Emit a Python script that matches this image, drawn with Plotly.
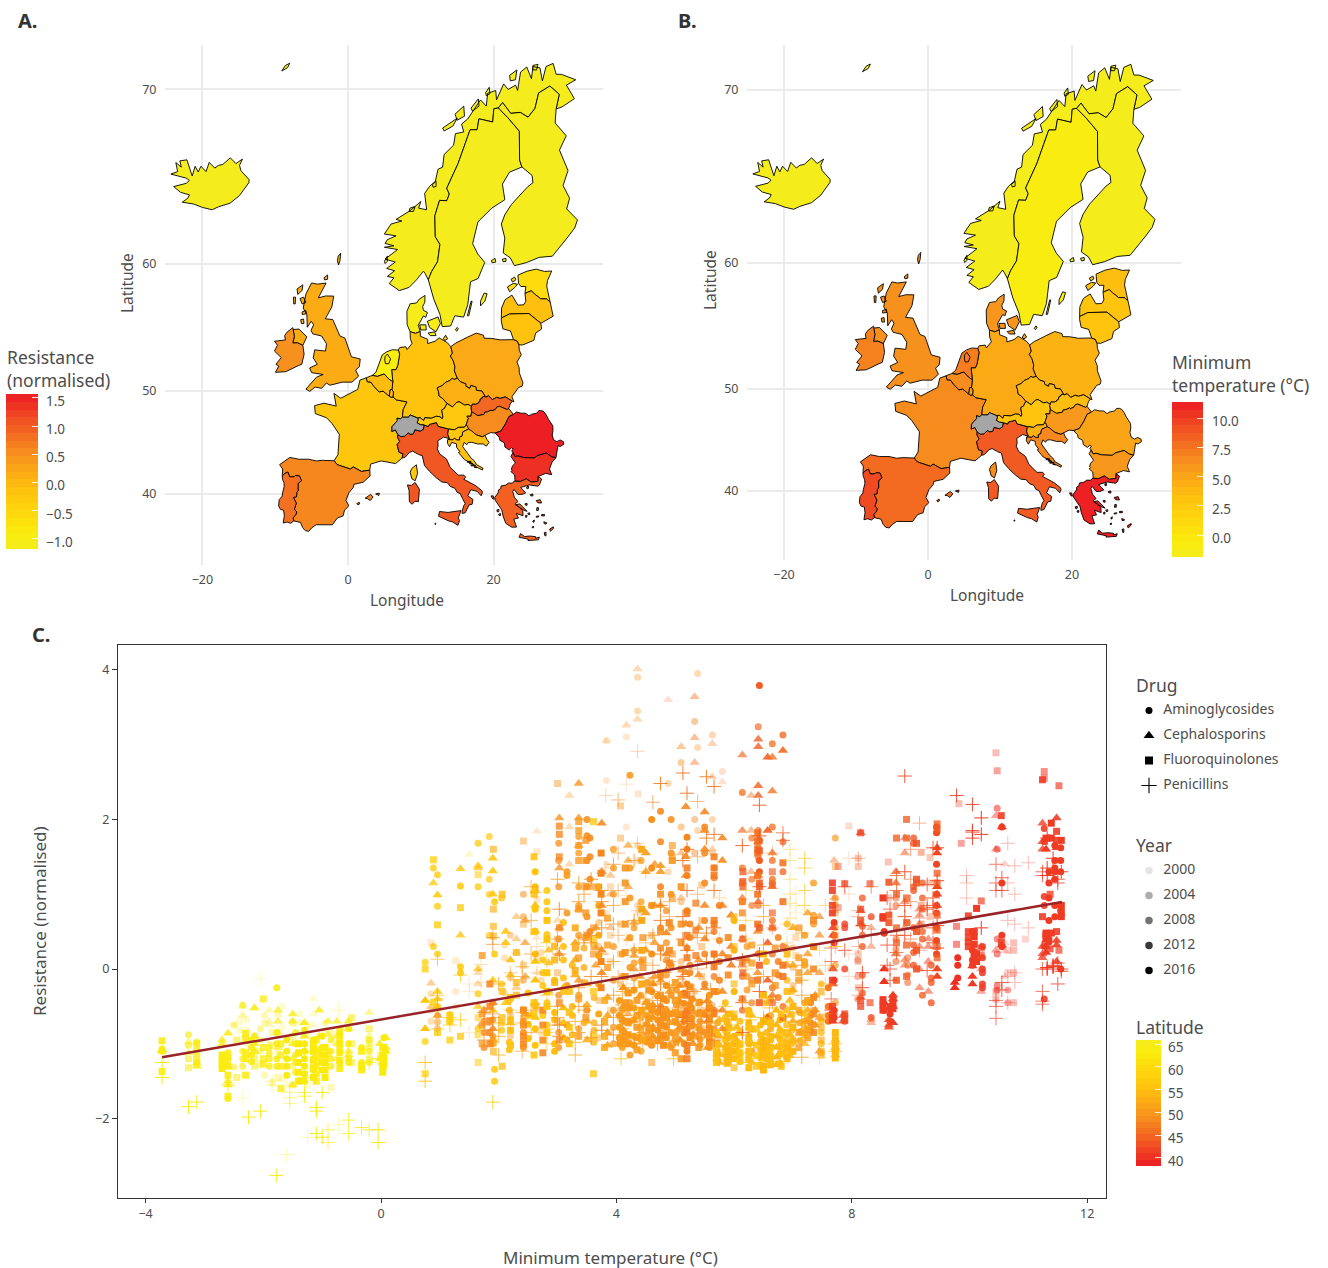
import math
import plotly.graph_objects as go

W, H = 1328, 1268
FONT = "Noto Sans"
GREY = "#4d4d4d"

def merc(lat):
    return math.log(math.tan(math.pi / 4 + math.radians(lat) / 2))

# ---------- country outlines (lon, lat) ----------
SHAPES = {
"Iceland": [[(-14.5,66.45),(-14.9,66.1),(-14.7,65.8),(-13.6,65.3),(-13.6,65.13),(-14.2,64.8),(-14.9,64.36),(-16.2,63.9),(-17.8,63.68),(-18.66,63.5),(-19.97,63.64),(-21.2,63.85),(-22.76,63.96),(-22.0,64.2),(-21.78,64.4),(-23.0,64.55),(-23.95,64.89),(-22.2,65.08),(-21.8,65.25),(-22.23,65.38),(-24.33,65.61),(-23.4,65.75),(-23.65,66.26),(-22.9,66.0),(-23.1,66.35),(-22.13,66.41),(-21.4,65.5),(-21.0,66.05),(-20.58,65.73),(-20.2,66.05),(-19.5,65.75),(-19.06,66.27),(-18.3,65.95),(-17.8,66.1),(-17.2,66.15),(-16.17,66.52),(-15.4,66.2),(-14.5,66.45)]],
"Norway": [[(31.29,70.45),(30.0,70.2),(31.1,69.56),(29.4,69.16),(28.59,69.06),(29.02,69.77),(27.73,70.16),(26.18,69.83),(25.69,69.09),(24.74,68.65),(23.66,68.89),(22.36,68.84),(21.24,69.37),(20.65,69.11),(20.03,69.07),(19.88,68.41),(17.99,68.57),(17.73,68.01),(16.77,68.01),(16.11,67.3),(15.11,66.19),(13.56,64.79),(13.92,64.45),(13.57,64.05),(12.58,64.07),(11.93,63.13),(11.99,61.8),(12.63,61.29),(12.3,60.12),(11.47,59.43),(11.03,58.86),(10.6,59.3),(10.36,59.47),(9.4,58.85),(8.38,58.31),(7.05,58.08),(5.67,58.59),(6.3,59.0),(5.4,59.1),(6.4,59.5),(5.31,59.66),(6.5,60.1),(5.1,60.3),(6.8,60.95),(5.0,61.1),(6.3,61.2),(5.1,61.35),(5.4,61.6),(6.6,61.85),(4.99,61.97),(5.91,62.61),(7.4,62.8),(6.6,62.9),(8.55,63.45),(10.0,64.0),(9.7,63.6),(10.8,63.5),(10.53,64.49),(11.2,64.9),(12.0,65.2),(12.36,65.88),(13.0,66.0),(13.2,66.7),(14.5,67.2),(14.76,67.81),(15.9,67.9),(15.6,68.3),(16.44,68.56),(17.4,69.1),(18.2,69.5),(19.0,69.2),(19.18,69.82),(20.3,69.95),(20.4,69.5),(21.38,70.26),(22.0,70.0),(23.02,70.2),(23.3,69.95),(23.7,70.8),(24.55,71.03),(25.2,70.5),(25.4,71.05),(26.37,70.99),(26.7,70.4),(27.2,71.05),(28.17,71.19),(28.6,70.7),(29.3,70.7),(31.29,70.45)],
  [(13.0,68.1),(14.3,68.4),(15.0,68.6),(14.4,68.2),(13.2,67.95)],[(14.7,68.8),(15.9,69.2),(16.0,68.7),(15.0,68.5)],[(16.9,69.1),(17.9,69.55),(18.0,69.2),(17.1,68.95)],[(18.9,69.85),(19.4,70.1),(19.5,69.8),(19.0,69.7)],[(22.2,70.65),(23.2,70.9),(23.0,70.45),(22.3,70.4)],[(8.5,63.6),(9.2,63.7),(9.0,63.4),(8.4,63.4)],[(25.4,71.1),(26.1,71.15),(25.9,70.9),(25.4,70.9)],[(11.6,65.0),(12.1,65.2),(12.1,64.9),(11.7,64.85)],[(5.0,60.15),(5.4,60.5),(5.4,60.15),(5.1,60.0)]],
"Sweden": [[(22.18,65.72),(21.21,65.03),(21.54,64.11),(19.78,63.61),(17.85,62.75),(17.12,61.34),(17.83,60.64),(18.79,60.08),(17.87,58.95),(16.83,58.72),(16.45,57.04),(15.88,56.1),(14.67,56.2),(14.1,55.41),(12.94,55.36),(12.63,56.31),(11.79,57.44),(11.03,58.86),(11.47,59.43),(12.3,60.12),(12.63,61.29),(11.99,61.8),(11.93,63.13),(12.58,64.07),(13.57,64.05),(13.92,64.45),(13.56,64.79),(15.11,66.19),(16.11,67.3),(16.77,68.01),(17.73,68.01),(17.99,68.57),(19.88,68.41),(20.03,69.07),(20.65,69.11),(21.98,68.62),(23.54,67.94),(23.57,66.4),(23.9,66.01),(22.18,65.72)],
  [(18.2,57.3),(18.7,57.9),(19.1,57.85),(18.8,57.3),(18.2,56.95)],[(16.4,56.2),(16.9,57.3),(17.05,57.3),(16.6,56.2)],[(15.0,55.3),(15.15,55.2),(14.95,55.0),(14.75,55.1)]],
"Finland": [[(28.59,69.06),(28.45,68.36),(29.98,67.7),(29.05,66.94),(30.22,65.81),(29.54,64.95),(30.44,64.2),(30.04,63.55),(31.52,62.87),(31.14,62.36),(30.21,61.78),(28.07,60.5),(26.26,60.42),(24.5,60.06),(22.87,59.85),(22.29,60.39),(21.32,60.72),(21.54,61.71),(21.06,62.61),(21.54,63.19),(22.44,63.82),(24.73,64.9),(25.4,65.11),(25.29,65.53),(23.9,66.01),(23.57,66.4),(23.54,67.94),(21.98,68.62),(20.65,69.11),(21.24,69.37),(22.36,68.84),(23.66,68.89),(24.74,68.65),(25.69,69.09),(26.18,69.83),(27.73,70.16),(29.02,69.77),(28.59,69.06)],
  [(19.7,60.2),(20.2,60.35),(20.3,60.1),(19.8,60.05)],[(21.2,60.3),(21.7,60.35),(21.7,60.15),(21.3,60.12)]],
"Denmark": [[(9.92,54.98),(9.28,54.83),(8.53,54.96),(8.12,55.52),(8.09,56.54),(8.26,56.81),(8.54,57.11),(9.42,57.17),(9.78,57.45),(10.58,57.73),(10.55,57.22),(10.25,56.89),(10.37,56.61),(10.91,56.46),(10.67,56.08),(10.37,56.19),(9.65,55.47),(9.92,54.98)],
  [(12.37,56.11),(12.69,55.61),(12.09,54.95),(11.2,55.3),(10.9,55.78),(12.37,56.11)],[(9.85,55.5),(10.7,55.5),(10.75,55.1),(10.0,55.1)],[(11.0,54.85),(11.9,54.95),(12.1,54.65),(11.3,54.65)]],
"United Kingdom": [[(-5.66,54.55),(-6.2,53.87),(-6.95,54.07),(-7.57,54.06),(-7.37,54.6),(-7.57,55.13),(-6.73,55.17),(-5.66,54.55)],
  [(-3.01,58.63),(-4.07,57.55),(-3.06,57.69),(-1.96,57.68),(-2.22,56.87),(-3.12,55.97),(-2.09,55.91),(-1.11,54.62),(-0.43,54.46),(0.18,53.33),(0.47,52.93),(1.68,52.74),(1.56,52.1),(1.05,51.81),(1.45,51.29),(0.55,50.77),(-0.79,50.77),(-2.49,50.5),(-2.96,50.7),(-3.62,50.23),(-4.54,50.34),(-5.25,49.96),(-5.78,50.16),(-4.31,51.21),(-3.41,51.43),(-5.0,51.59),(-5.27,51.99),(-4.22,52.3),(-4.77,52.84),(-4.58,53.5),(-3.09,53.4),(-2.95,53.99),(-3.63,54.62),(-4.84,54.79),(-5.08,55.06),(-4.72,55.51),(-5.05,55.78),(-5.59,55.31),(-5.65,56.28),(-6.15,56.79),(-5.79,57.82),(-5.01,58.63),(-4.21,58.55),(-3.01,58.63)],
  [(-1.35,60.5),(-1.0,60.7),(-1.1,60.2),(-1.3,59.9),(-1.45,60.2)],[(-3.3,59.0),(-2.8,59.2),(-2.8,58.9),(-3.2,58.85)],[(-7.0,58.2),(-6.2,58.5),(-6.3,58.1),(-6.9,57.8)],[(-7.5,57.6),(-7.2,57.6),(-7.25,57.1),(-7.45,57.1)],[(-6.6,57.5),(-6.1,57.6),(-5.8,57.2),(-6.3,57.1)],[(-6.3,56.5),(-5.8,56.6),(-5.7,56.35),(-6.3,56.3)],[(-6.5,55.9),(-6.1,55.95),(-6.05,55.6),(-6.4,55.6)]],
"Ireland": [[(-6.2,53.87),(-6.03,53.15),(-6.35,52.3),(-6.79,52.2),(-8.56,51.67),(-9.98,51.62),(-9.5,52.15),(-9.9,52.3),(-9.17,52.86),(-10.1,53.4),(-9.69,53.88),(-10.1,54.2),(-8.6,54.3),(-8.7,54.66),(-8.33,54.95),(-7.57,55.28),(-7.37,54.6),(-7.57,54.06),(-6.95,54.07),(-6.2,53.87)]],
"France": [[(6.19,49.46),(6.66,49.2),(8.1,49.02),(7.59,48.33),(7.47,47.62),(7.19,47.45),(6.74,47.54),(6.77,47.29),(6.04,46.73),(6.02,46.27),(6.5,46.43),(6.84,45.99),(6.8,45.71),(7.1,45.33),(6.75,45.03),(7.01,44.25),(7.55,44.13),(7.44,43.69),(6.53,43.13),(4.56,43.4),(3.1,43.08),(2.99,42.47),(1.83,42.34),(0.7,42.8),(0.34,42.58),(-1.5,43.03),(-1.9,43.42),(-1.38,44.02),(-1.19,46.01),(-2.23,47.06),(-2.96,47.57),(-4.49,47.95),(-4.59,48.68),(-3.3,48.9),(-1.62,48.64),(-1.93,49.78),(-1.0,49.35),(1.34,50.13),(1.64,50.95),(2.51,51.15),(2.66,50.8),(3.12,50.78),(3.59,50.38),(4.29,49.91),(4.8,49.99),(5.67,49.53),(5.9,49.44),(6.19,49.46)],
  [(8.75,42.63),(9.39,43.01),(9.56,42.15),(9.23,41.38),(8.78,41.58),(8.54,42.26),(8.75,42.63)]],
"Spain": [[(-9.03,41.88),(-8.98,42.59),(-9.39,43.03),(-7.98,43.75),(-6.75,43.57),(-5.41,43.57),(-4.35,43.4),(-3.52,43.46),(-1.9,43.42),(-1.5,43.03),(0.34,42.58),(0.7,42.8),(1.83,42.34),(2.99,42.47),(3.04,41.89),(2.09,41.23),(0.81,41.01),(0.72,40.68),(0.11,40.12),(-0.28,39.31),(0.11,38.74),(-0.47,38.29),(-0.68,37.64),(-1.44,37.44),(-2.15,36.67),(-3.42,36.66),(-4.37,36.68),(-5.0,36.32),(-5.38,35.95),(-5.87,36.03),(-6.24,36.37),(-6.52,36.94),(-7.45,37.1),(-7.54,37.43),(-7.17,37.8),(-7.03,38.08),(-7.37,38.37),(-7.1,39.03),(-7.5,39.63),(-7.07,39.71),(-7.03,40.18),(-6.86,40.33),(-6.86,41.11),(-6.39,41.38),(-6.67,41.88),(-7.25,41.92),(-7.42,41.79),(-8.01,41.79),(-8.26,42.28),(-8.67,42.13),(-9.03,41.88)],
  [(2.35,39.55),(3.1,39.95),(3.45,39.7),(3.05,39.3),(2.7,39.5)],[(3.8,40.0),(4.3,40.1),(4.25,39.85),(3.85,39.93)],[(1.2,38.97),(1.55,39.12),(1.6,38.95),(1.35,38.85)]],
"Portugal": [[(-9.03,41.88),(-8.67,42.13),(-8.26,42.28),(-8.01,41.79),(-7.42,41.79),(-7.25,41.92),(-6.67,41.88),(-6.39,41.38),(-6.85,41.11),(-6.86,40.33),(-7.03,40.18),(-7.07,39.71),(-7.5,39.63),(-7.1,39.03),(-7.37,38.37),(-7.03,38.08),(-7.17,37.8),(-7.54,37.43),(-7.45,37.1),(-7.86,36.84),(-8.38,36.98),(-8.9,36.87),(-8.75,37.65),(-8.84,38.27),(-9.29,38.36),(-9.53,38.74),(-9.45,39.39),(-9.05,39.76),(-8.98,40.16),(-8.77,40.76),(-8.79,41.18),(-9.0,41.54),(-9.03,41.88)]],
"Italy": [[(12.38,46.77),(13.81,46.51),(13.7,46.02),(13.94,45.59),(13.14,45.74),(12.33,45.38),(12.38,44.89),(12.26,44.6),(12.59,44.09),(13.53,43.59),(14.03,42.76),(15.14,41.96),(15.93,41.96),(16.17,41.74),(15.89,41.54),(16.79,41.18),(17.52,40.88),(18.38,40.36),(18.48,40.17),(18.29,39.81),(17.74,40.28),(16.87,40.44),(16.45,39.8),(17.17,39.42),(17.05,38.9),(16.64,38.84),(16.1,37.99),(15.68,37.91),(15.69,38.21),(15.89,38.75),(16.11,38.96),(15.72,39.54),(15.41,40.05),(14.99,40.17),(14.7,40.6),(14.06,40.79),(13.63,41.19),(12.89,41.25),(12.11,41.7),(11.19,42.36),(10.51,42.93),(10.2,43.92),(9.7,44.04),(8.89,44.37),(8.43,44.23),(7.85,43.77),(7.44,43.69),(7.55,44.13),(7.01,44.25),(6.75,45.03),(7.1,45.33),(6.8,45.71),(6.84,45.99),(7.27,45.78),(7.76,45.82),(8.32,46.16),(8.49,46.01),(8.97,46.04),(9.18,46.44),(9.92,46.31),(10.36,46.48),(10.44,46.89),(11.05,46.75),(11.16,46.94),(12.15,47.12),(12.38,46.77)],
  [(15.52,38.23),(15.16,37.44),(15.31,37.13),(15.1,36.62),(14.34,37.0),(13.83,37.1),(12.43,37.61),(12.57,38.13),(13.74,38.03),(14.76,38.14),(15.52,38.23)],
  [(9.21,41.21),(9.81,40.5),(9.67,39.18),(9.21,39.24),(8.81,38.91),(8.43,39.17),(8.39,40.38),(8.16,40.95),(8.71,40.9),(9.21,41.21)]],
"Germany": [[(9.92,54.98),(9.94,54.6),(10.95,54.36),(10.94,54.01),(11.96,54.2),(12.52,54.47),(13.65,54.08),(14.12,53.76),(14.35,53.25),(14.07,52.98),(14.44,52.62),(14.69,52.09),(14.61,51.75),(15.02,51.11),(14.57,51.0),(14.31,51.12),(14.06,50.93),(13.34,50.73),(12.97,50.48),(12.24,50.27),(12.42,49.97),(12.52,49.55),(13.03,49.31),(13.6,48.88),(13.24,48.42),(12.88,48.29),(13.03,47.64),(12.93,47.47),(12.62,47.67),(12.14,47.7),(11.43,47.52),(10.54,47.57),(10.4,47.3),(9.9,47.58),(9.59,47.53),(8.52,47.83),(8.32,47.61),(7.47,47.62),(7.59,48.33),(8.1,49.02),(6.66,49.2),(6.19,49.46),(6.24,49.9),(6.04,50.13),(6.16,50.8),(5.99,51.85),(6.59,51.85),(6.84,52.23),(7.09,53.14),(6.91,53.48),(7.1,53.69),(7.94,53.75),(8.12,53.53),(8.8,54.02),(8.57,54.4),(8.53,54.96),(9.28,54.83),(9.92,54.98)],
  [(13.1,54.4),(13.4,54.68),(13.7,54.4),(13.3,54.25)]],
"Poland": [[(15.02,51.11),(14.61,51.75),(14.69,52.09),(14.44,52.62),(14.07,52.98),(14.35,53.25),(14.12,53.76),(14.8,54.05),(16.36,54.51),(17.62,54.85),(18.62,54.68),(18.7,54.44),(19.66,54.43),(20.89,54.31),(22.73,54.33),(23.24,54.22),(23.48,53.91),(23.53,53.47),(23.8,53.09),(23.2,52.49),(23.51,52.02),(23.53,51.58),(24.03,50.71),(23.92,50.42),(23.43,50.31),(22.52,49.48),(22.78,49.03),(22.56,49.09),(21.61,49.47),(20.89,49.33),(20.42,49.43),(19.83,49.22),(19.32,49.57),(18.91,49.44),(18.85,49.5),(18.39,49.99),(17.65,50.05),(17.55,50.36),(16.87,50.47),(16.72,50.22),(16.18,50.42),(16.18,50.63),(15.49,50.78),(15.02,51.11)]],
"Czechia": [[(15.02,51.11),(15.49,50.78),(16.18,50.63),(16.18,50.42),(16.72,50.22),(16.87,50.47),(17.55,50.36),(17.65,50.05),(18.39,49.99),(18.85,49.5),(18.55,49.5),(18.17,49.27),(18.11,49.04),(17.91,48.99),(17.89,48.9),(17.55,48.8),(17.1,48.82),(16.96,48.6),(16.5,48.79),(16.03,48.73),(15.25,49.04),(14.9,48.96),(14.34,48.56),(13.6,48.88),(13.03,49.31),(12.52,49.55),(12.42,49.97),(12.24,50.27),(12.97,50.48),(13.34,50.73),(14.06,50.93),(14.31,51.12),(14.57,51.0),(15.02,51.11)]],
"Slovakia": [[(18.85,49.5),(18.91,49.44),(19.32,49.57),(19.83,49.22),(20.42,49.43),(20.89,49.33),(21.61,49.47),(22.56,49.09),(22.28,48.83),(22.09,48.42),(21.87,48.32),(20.8,48.62),(20.47,48.56),(20.24,48.33),(19.77,48.2),(19.66,48.27),(19.17,48.11),(18.78,48.08),(18.7,47.88),(17.86,47.76),(17.49,47.87),(16.98,48.12),(16.88,48.47),(16.96,48.6),(17.1,48.82),(17.55,48.8),(17.89,48.9),(17.91,48.99),(18.11,49.04),(18.17,49.27),(18.4,49.32),(18.55,49.5),(18.85,49.5)]],
"Austria": [[(16.98,48.12),(16.9,47.71),(16.34,47.71),(16.53,47.5),(16.2,46.85),(16.01,46.68),(15.14,46.66),(14.63,46.43),(13.81,46.51),(12.38,46.77),(12.15,47.12),(11.16,46.94),(11.05,46.75),(10.44,46.89),(9.93,46.92),(9.48,47.1),(9.63,47.35),(9.59,47.53),(9.9,47.58),(10.4,47.3),(10.54,47.57),(11.43,47.52),(12.14,47.7),(12.62,47.67),(12.93,47.47),(13.03,47.64),(12.88,48.29),(13.24,48.42),(13.6,48.88),(14.34,48.56),(14.9,48.96),(15.25,49.04),(16.03,48.73),(16.5,48.79),(16.96,48.6),(16.88,48.47),(16.98,48.12)]],
"Switzerland": [[(9.59,47.53),(9.63,47.35),(9.48,47.1),(9.93,46.92),(10.44,46.89),(10.36,46.48),(9.92,46.31),(9.18,46.44),(8.97,46.04),(8.49,46.01),(8.32,46.16),(7.76,45.82),(7.27,45.78),(6.84,45.99),(6.5,46.43),(6.02,46.27),(6.04,46.73),(6.77,47.29),(6.74,47.54),(7.19,47.45),(7.47,47.62),(8.32,47.61),(8.52,47.83),(9.59,47.53)]],
"Hungary": [[(16.2,46.85),(16.53,47.5),(16.34,47.71),(16.9,47.71),(16.98,48.12),(17.49,47.87),(17.86,47.76),(18.7,47.88),(18.78,48.08),(19.17,48.11),(19.66,48.27),(19.77,48.2),(20.24,48.33),(20.47,48.56),(20.8,48.62),(21.87,48.32),(22.09,48.42),(22.71,47.88),(22.1,47.67),(21.63,46.99),(21.02,46.32),(20.22,46.13),(19.6,46.17),(18.83,45.91),(18.46,45.76),(17.63,45.95),(16.88,46.38),(16.56,46.5),(16.2,46.85)]],
"Slovenia": [[(13.81,46.51),(14.63,46.43),(15.14,46.66),(16.01,46.68),(16.2,46.85),(16.37,46.84),(16.56,46.5),(15.77,46.24),(15.67,45.83),(15.32,45.73),(15.33,45.45),(14.94,45.47),(14.6,45.63),(14.41,45.47),(13.72,45.5),(13.94,45.59),(13.7,46.02),(13.81,46.51)]],
"Croatia": [[(18.83,45.91),(19.07,45.52),(19.39,45.24),(19.01,44.86),(18.55,45.08),(17.86,45.07),(17.0,45.23),(16.53,45.21),(16.32,45.0),(15.96,45.23),(15.75,44.82),(16.24,44.35),(16.46,44.04),(16.92,43.67),(17.3,43.45),(17.67,43.03),(18.56,42.65),(18.45,42.48),(17.51,42.85),(16.93,43.21),(16.02,43.51),(15.17,44.24),(15.38,44.32),(14.92,44.74),(14.9,45.08),(14.26,45.23),(13.95,44.8),(13.66,45.14),(13.68,45.48),(13.72,45.5),(14.41,45.47),(14.6,45.63),(14.94,45.47),(15.33,45.45),(15.32,45.73),(15.67,45.83),(15.77,46.24),(16.56,46.5),(16.88,46.38),(17.63,45.95),(18.46,45.76),(18.83,45.91)],
  [(16.4,43.35),(16.9,43.35),(16.9,43.25),(16.4,43.25)],[(16.7,43.18),(17.2,43.15),(17.2,43.08),(16.7,43.1)],[(16.9,42.97),(17.5,42.98),(17.5,42.9),(16.9,42.9)],[(17.3,42.8),(17.7,42.78),(17.7,42.72),(17.3,42.74)]],
"Romania": [[(22.71,47.88),(23.14,48.1),(23.76,47.99),(24.4,47.98),(24.87,47.74),(25.21,47.89),(25.95,47.99),(26.2,48.22),(26.62,48.22),(26.92,48.12),(27.23,47.83),(27.55,47.41),(28.13,46.81),(28.16,46.37),(28.05,45.94),(28.23,45.49),(28.68,45.3),(29.15,45.46),(29.6,45.29),(29.63,45.04),(29.14,44.82),(28.84,44.91),(28.56,43.71),(27.97,43.81),(27.24,44.18),(26.07,43.94),(25.57,43.69),(24.1,43.74),(23.33,43.9),(22.94,43.82),(22.66,44.23),(22.47,44.41),(22.71,44.58),(22.46,44.7),(22.15,44.48),(21.56,44.77),(21.48,45.18),(20.87,45.42),(20.76,45.73),(20.22,46.13),(21.02,46.32),(21.63,46.99),(22.1,47.67),(22.71,47.88)]],
"Bulgaria": [[(22.66,44.23),(22.94,43.82),(23.33,43.9),(24.1,43.74),(25.57,43.69),(26.07,43.94),(27.24,44.18),(27.97,43.81),(28.56,43.71),(28.04,43.29),(27.67,42.58),(27.99,42.01),(27.14,42.14),(26.12,41.83),(26.11,41.33),(25.2,41.23),(24.49,41.58),(23.69,41.31),(22.95,41.34),(22.88,41.99),(22.38,42.32),(22.55,42.46),(22.44,42.58),(22.6,42.9),(22.99,43.2),(22.5,43.64),(22.38,43.85),(22.66,44.23)]],
"Greece": [[(26.6,41.56),(26.29,40.94),(26.06,40.82),(25.45,40.85),(24.93,40.95),(23.71,40.69),(24.41,40.12),(23.9,39.96),(23.34,39.96),(22.81,40.48),(22.63,40.26),(22.85,39.66),(23.35,39.19),(22.97,38.97),(23.53,38.51),(24.02,38.22),(24.04,37.66),(23.12,37.92),(23.41,37.41),(22.77,37.31),(23.15,36.42),(22.49,36.41),(21.67,36.84),(21.3,37.64),(21.12,38.31),(20.73,38.77),(20.22,39.34),(20.15,39.62),(20.62,40.11),(20.67,40.43),(20.99,40.58),(21.02,40.84),(21.67,40.93),(22.06,41.15),(22.6,41.13),(22.76,41.3),(22.95,41.34),(23.69,41.31),(24.49,41.58),(25.2,41.23),(26.11,41.33),(26.12,41.83),(26.6,41.56)],
  [(23.7,35.71),(24.25,35.37),(25.02,35.42),(25.77,35.35),(25.75,35.18),(26.29,35.3),(26.16,35.0),(24.72,34.92),(24.74,35.08),(23.51,35.28),(23.7,35.71)],
  [(23.0,38.85),(23.6,38.95),(24.6,38.15),(24.2,38.25)],[(25.85,39.3),(26.4,39.4),(26.6,39.05),(26.1,39.05)],[(25.95,38.55),(26.15,38.55),(26.15,38.25),(25.9,38.25)],[(26.6,37.8),(27.0,37.8),(27.0,37.65),(26.6,37.65)],[(27.7,36.2),(28.2,36.45),(28.25,36.3),(27.8,35.95)],[(26.95,35.8),(27.2,35.85),(27.2,35.45),(27.05,35.45)],[(25.05,39.95),(25.4,40.0),(25.4,39.8),(25.1,39.8)],[(24.55,40.75),(24.8,40.8),(24.8,40.6),(24.6,40.55)],[(25.4,37.1),(25.6,37.2),(25.55,36.95),(25.4,36.98)],[(24.7,37.95),(24.95,37.98),(24.98,37.8),(24.75,37.8)],[(20.45,38.3),(20.75,38.35),(20.7,38.1),(20.5,38.1)],[(20.7,37.85),(20.95,37.9),(20.95,37.7),(20.75,37.7)],[(19.65,39.8),(19.95,39.8),(20.05,39.45),(19.85,39.5)],[(26.9,37.0),(27.3,36.9),(27.2,36.75),(26.95,36.8)],[(25.3,36.45),(25.5,36.5),(25.45,36.33),(25.3,36.35)],[(24.4,37.7),(24.6,37.7),(24.55,37.5),(24.4,37.5)],[(25.85,37.6),(26.2,37.65),(26.2,37.55),(25.85,37.5)],[(24.3,38.95),(24.6,39.0),(24.6,38.8),(24.4,38.8)]],
"Netherlands": [[(6.07,53.51),(6.91,53.48),(7.09,53.14),(6.84,52.23),(6.59,51.85),(5.99,51.85),(6.16,50.8),(5.61,51.04),(4.97,51.48),(4.05,51.27),(3.31,51.35),(3.83,51.62),(4.71,53.09),(5.35,53.35),(6.07,53.51)],
  [(5.1,52.95),(5.4,53.15),(5.85,52.75),(5.6,52.35),(5.15,52.35),(5.05,52.65)]],
"Belgium": [[(3.31,51.35),(4.05,51.27),(4.97,51.48),(5.61,51.04),(6.16,50.8),(6.04,50.13),(5.78,50.09),(5.67,49.53),(4.8,49.99),(4.29,49.91),(3.59,50.38),(3.12,50.78),(2.66,50.8),(2.51,51.15),(3.31,51.35)]],
"Luxembourg": [[(6.04,50.13),(6.24,49.9),(6.19,49.46),(5.9,49.44),(5.67,49.53),(5.78,50.09),(6.04,50.13)]],
"Estonia": [[(27.98,59.48),(27.0,59.45),(25.86,59.61),(24.6,59.47),(23.34,59.19),(23.43,58.61),(23.75,58.38),(24.43,58.38),(24.31,57.87),(25.16,58.07),(25.6,57.85),(26.46,57.48),(27.29,57.47),(27.77,57.24),(27.5,57.9),(27.3,58.4),(27.4,58.8),(27.98,59.48)],
  [(21.9,58.35),(22.7,58.6),(23.3,58.55),(22.9,58.3),(22.2,58.0)],[(22.4,58.9),(22.9,59.05),(23.05,58.85),(22.6,58.7)]],
"Latvia": [[(21.06,56.03),(22.2,56.34),(24.86,56.37),(25.0,56.3),(26.49,55.62),(28.18,56.17),(27.77,57.24),(27.29,57.47),(26.46,57.48),(25.6,57.85),(25.16,58.07),(24.31,57.87),(24.43,57.3),(24.12,57.03),(23.32,57.01),(22.52,57.75),(21.58,57.41),(21.09,56.78),(21.06,56.03)]],
"Lithuania": [[(22.73,54.33),(23.24,54.22),(23.48,53.91),(24.0,53.9),(25.54,54.28),(25.77,54.85),(26.59,55.17),(26.49,55.62),(25.0,56.3),(24.86,56.37),(22.2,56.34),(21.06,56.03),(21.06,55.79),(21.27,55.19),(22.32,55.02),(22.73,54.33)]],
"JanMayen": [[(-9.1,70.85),(-8.6,71.1),(-8.0,71.2),(-8.3,71.0)]],
"Pantelleria": [[(11.95,36.85),(12.05,36.85),(12.05,36.72),(11.95,36.72)]],
}

# ---------- map values ----------
RESISTANCE = {"Iceland":-1.15,"Norway":-1.15,"Sweden":-1.15,"Finland":-1.15,"JanMayen":-1.15,"Denmark":-1.1,"Netherlands":-0.98,"Estonia":-0.6,"Latvia":-0.1,"Lithuania":-0.15,"Austria":-0.25,"Slovenia":-0.2,"France":-0.2,"Germany":-0.15,"Croatia":-0.1,"Belgium":-0.05,"Luxembourg":-0.05,"Czechia":0.1,"United Kingdom":0.15,"Poland":0.2,"Hungary":0.55,"Ireland":0.5,"Spain":0.6,"Portugal":0.8,"Slovakia":0.9,"Greece":0.95,"Italy":1.05,"Pantelleria":1.05,"Bulgaria":1.4,"Romania":1.55}
MIN_TEMP = {"Iceland":-1.7,"Norway":-1.7,"Sweden":-0.9,"Finland":-1.7,"JanMayen":-1.7,"Denmark":6.0,"Netherlands":7.1,"Estonia":3.4,"Latvia":3.0,"Lithuania":2.9,"Austria":3.0,"Slovenia":4.3,"France":6.5,"Germany":4.7,"Croatia":6.6,"Belgium":6.4,"Luxembourg":4.7,"Czechia":3.9,"United Kingdom":6.2,"Poland":4.2,"Hungary":5.8,"Ireland":6.9,"Spain":8.0,"Portugal":9.4,"Slovakia":3.4,"Greece":11.2,"Italy":8.7,"Pantelleria":8.7,"Bulgaria":5.9,"Romania":5.0}

RES_RANGE = (-1.18, 1.57)
TEMP_RANGE = (-1.88, 11.37)
LAT_RANGE = (38.2, 65.9)
RES_TICKS = [-1.0, -0.5, 0.0, 0.5, 1.0, 1.5]
TEMP_TICKS = [0.0, 2.5, 5.0, 7.5, 10.0]
LAT_TICKS = [40, 45, 50, 55, 60, 65]

# ---------- panel C data: (temperature, latitude, year, [resistance values]) ----------
AMINO = [
(-3.72,64,2014,[-1.07,-1.1]),(-3.27,64,2010,[-0.88,-1.02]),(-3.13,64,2012,[-0.98,-1.07,-1.25]),(-2.6,64,2014,[-1.12,-1.2,-1.28,-1.73]),(-2.5,64,2008,[-0.75,-1.31]),(-2.35,64,2010,[-0.48,-1.1,-1.2,-1.3]),(-2.2,64,2014,[-0.95,-1.05,-1.15,-1.24]),(-2.05,64,2006,[-0.8,-0.95,-1.1,-1.28]),(-1.9,64,2012,[-1.05,-1.13,-1.2,-1.3]),(-1.77,64,2014,[-0.25,-0.85,-1.0,-1.2,-1.3]),(-1.6,64,2016,[-0.95,-1.1,-1.2,-1.3,-1.42]),(-1.45,63,2012,[-0.85,-1.0,-1.15,-1.25,-1.38]),(-1.3,63,2016,[-0.82,-1.0,-1.1,-1.2,-1.3,-1.4,-1.5]),(-1.15,64,2016,[-0.95,-1.05,-1.2,-1.35,-1.45]),(-1.0,63,2016,[-0.9,-1.05,-1.15,-1.25,-1.35]),(-0.85,64,2012,[-0.95,-1.1,-1.2,-1.3]),(-0.7,63,2016,[-0.88,-1.0,-1.12,-1.25]),(-0.55,63,2014,[-0.8,-1.0,-1.2,-1.25]),(-0.33,63,2014,[-1.05,-1.25,-1.32]),(-0.2,64,2012,[-0.95,-1.1,-1.25]),(0.05,63,2016,[-0.92,-1.15,-1.2,-1.25,-1.3]),
(-2.28,64,2002,[-0.68,-0.82,-1.0]),(-1.98,64,2004,[-0.62,-0.72,-1.42]),(-1.68,64,2002,[-0.5,-0.78,-1.48]),(-1.38,64,2002,[-0.6,-0.72]),(-0.95,64,2004,[-0.72,-0.82]),
(0.75,58,2012,[0.09,-0.97]),(0.89,57,2012,[1.35,0.3]),(0.96,57,2012,[1.26,0.84,0.2]),(0.85,51,2004,[-0.33,-0.55,-0.7]),(0.96,50,2008,[-0.71,-0.62,-0.8]),(1.17,57,2014,[-0.61,-0.7]),(1.35,57,2014,[1.11,0.03,-0.05]),(1.27,50,2002,[-0.3,-0.5]),(1.65,57,2012,[1.68,1.1,-0.33,-0.8]),(1.75,48,2012,[-0.55,-0.7,-0.85,-1.05]),(1.84,56,2010,[1.77,1.2,1.0,0.45]),(1.9,50,2012,[-0.45,-0.68,-0.9,-1.0]),(1.93,57,2014,[0.9,0.2,-1.34,-1.5]),(2.05,56,2012,[0.95,-0.2,-0.72,-0.82]),(2.2,50,2006,[0.45,-0.12,-0.6,-0.9]),(2.42,49,2008,[1.0,0.7,-0.15,-0.65,-0.95]),(2.42,49,2014,[-0.55,-0.7,-0.85,-1.05]),(2.62,56,2016,[1.3,1.1,1.05,0.8,0.5,0.2,-0.5,-0.8,-1.02]),(2.72,50,2004,[0.22,-0.15,-0.55,-0.85]),(2.82,56,2014,[1.05,0.9,0.78,0.46,-0.45,-0.75]),(3.02,49,2012,[1.68,1.45,1.1,0.4,-0.35,-0.85,-1.05]),(3.16,50,2014,[1.3,1.25,0.75,-0.22,-0.75,-0.95]),(3.36,50,2012,[1.77,1.55,1.1,0.85,0.45,-0.35,-0.8]),(3.5,49,2014,[2.0,1.78,1.45,1.1,0.7,0.45,-0.55]),(3.7,52,2016,[1.1,0.85,0.45,0.18,-0.2,-0.6]),(3.83,50,2002,[3.05,2.52,1.4,0.75]),
(2.18,55,2014,[-0.42,-0.55,-0.98,-1.08]),(2.5,56,2016,[-0.32,-0.62,-0.74,-0.93]),(2.95,55,2016,[-0.15,-0.58,-0.68,-1.0,-1.1]),(3.25,54,2014,[-0.5,-0.62,-0.88,0.05]),(3.62,53,2012,[-0.38,-0.72,-0.82,-0.98,0.32]),
(2.1,52,2004,[0.15,0.32,-0.32]),(2.75,56,2014,[0.12,-0.05,-0.22,-0.62]),(3.1,55,2014,[0.62,0.3,0.12,-0.12,-0.3]),(3.45,52,2012,[0.28,0.02,-0.18,-0.72]),(3.7,50,2006,[0.62,0.3,-0.42,-0.92]),
(3.55,48,2014,[1.75,1.5,1.2,0.5]),(3.95,50,2012,[1.6,1.35,1.0,0.3,-0.15,-0.55,-0.78,-1.0]),(4.1,51,2014,[0.2,-0.1,-0.55,-0.7,-0.85,-0.95,-1.05]),(4.23,50,2014,[2.59,1.35,0.95,0.42,0.02,-0.45,-0.7,-1.15]),(4.36,49,2004,[3.9,3.45,1.65,0.85]),(4.42,51,2012,[1.45,0.9,0.1,-0.35,-0.65,-0.85,-1.1]),(4.17,50,2002,[3.1,1.9]),(4.6,49,2016,[2.0,1.35,0.85,0.2,-0.3,-0.55,-0.8,-1.02]),(4.75,48,2014,[2.11,1.7,1.1,0.55,-0.1,-0.5,-0.75,-0.9]),(4.88,49,2004,[2.48,1.3,0.6]),(4.93,49,2014,[2.0,1.55,1.0,0.55,0.05,-0.35,-0.6,-0.85,-1.05]),(5.1,49,2006,[2.76,1.9,0.9,0.1,-0.45,-0.75]),(5.2,48,2016,[1.76,1.6,1.25,0.78,0.28,-0.2,-0.55,-0.8,-1.1]),(5.33,48,2006,[3.31,2.0,1.55,0.45,-0.3]),(5.38,49,2004,[3.95,2.96,1.85]),(5.5,48,2014,[1.9,1.55,1.15,0.65,0.2,-0.2,-0.6,-0.85]),(5.63,48,2004,[3.13,2.0,1.55]),(5.66,47,2012,[1.35,1.22,0.5,0.2,-0.1,-0.55,-0.8]),(5.8,46,2002,[2.64]),(5.85,55,2014,[-0.45,-0.65,-0.82,-0.95,-1.05,-1.12]),(6.0,54,2016,[0.65,0.25,-0.3,-0.65,-0.9,-1.0,-1.1,-1.2]),(6.14,46,2012,[2.36,1.35,0.9,0.55,-0.1,-0.55]),(6.3,46,2010,[1.75,1.2,0.85,-0.15,-0.45,-0.8,-1.1]),(6.41,45,2010,[3.24,1.85,1.62,1.5,0.85,0.2]),(6.43,44,2016,[3.79,1.72,1.45,1.3]),(6.55,54,2014,[0.1,-0.45,-0.65,-0.85,-1.0,-1.1,-1.2]),(6.65,46,2012,[3.01,1.9,1.45,1.2,1.15,0.65,0.2,-0.25]),(6.83,45,2012,[3.13,1.7,1.3,0.3,-0.5]),(6.9,54,2012,[0.6,-0.15,-0.55,-0.75,-0.95,-1.05,-1.18]),(7.2,51,2014,[0.45,0.1,0.05,-0.45,-0.7,-0.85]),(7.35,50,2012,[1.15,0.72,0.6,0.3,-0.38,-0.55,-0.75]),(7.48,54,2012,[-0.2,-0.7,-0.85,-1.0,-1.12]),(7.72,50,2010,[1.75,0.95,0.86,0.55,0.05,-0.45]),(7.72,55,2012,[-0.88,-0.98,-1.05,-1.12]),
(4.05,51,2016,[-0.42,-0.62,-0.78,-0.92,-1.0]),(4.3,51,2016,[-0.28,-0.52,-0.68,-0.9,-1.02]),(4.52,50,2014,[-0.18,-0.44,-0.62,-0.74,-0.88,-0.98]),(4.7,50,2016,[-0.36,-0.58,-0.68,-0.82,-0.96]),(4.85,50,2016,[-0.22,-0.42,-0.55,-0.66,-0.78,-0.92]),(5.02,50,2014,[-0.28,-0.48,-0.6,-0.72,-0.84,-0.98]),(5.15,49,2016,[-0.32,-0.46,-0.62,-0.7,-0.86,-1.0]),(5.28,50,2016,[-0.4,-0.52,-0.66,-0.76,-0.9]),(5.42,49,2014,[-0.44,-0.58,-0.7,-0.82,-0.94,-1.02]),(5.58,50,2016,[-0.35,-0.5,-0.64,-0.78,-0.92,-1.05]),(5.72,52,2014,[-0.3,-0.72,-0.88,-1.0,-1.12,-1.22]),(5.9,54,2016,[-0.6,-0.78,-0.92,-1.08,-1.15,-1.25]),(6.1,55,2014,[-0.7,-0.85,-1.02,-1.14,-1.24]),(6.25,54,2016,[-0.55,-0.72,-0.9,-1.0,-1.12,-1.2]),(6.45,55,2016,[-0.75,-0.88,-0.98,-1.08,-1.18,-1.28]),(6.62,53,2014,[-0.4,-0.62,-0.8,-0.95,-1.06,-1.16]),(6.78,55,2016,[-0.68,-0.82,-0.94,-1.04,-1.14,-1.26]),(6.98,54,2012,[-0.3,-0.6,-0.82,-1.0,-1.1]),(7.12,52,2014,[-0.58,-0.72,-0.84,-0.96]),(7.3,49,2016,[-0.45,-0.62,-0.72,-0.82]),(7.6,47,2016,[-0.25,-0.5,-0.62,-0.7]),
(4.3,50,2012,[0.55,0.25,0.08,-0.12]),(4.85,49,2012,[0.78,0.35,0.12,-0.08]),(5.25,48,2014,[0.6,0.42,0.05,-0.05]),(5.75,47,2014,[0.85,0.38,0.1,-0.15]),(6.22,50,2012,[0.3,0.12,-0.1,-0.28]),(6.75,48,2014,[0.42,0.1,-0.08,-0.38]),(7.0,49,2006,[0.28,0.02,-0.22]),
(7.7,41,2016,[0.62,0.45,0.35,-0.15,-0.55,-0.65]),(7.88,41,2012,[0.6,0.55,0.0,-0.62,-0.7]),(8.1,43,2006,[0.12,-0.1,-0.4]),(8.18,44,2012,[0.95,0.57,0.45,0.3,-0.08,-0.32]),(8.33,42,2012,[0.7,-0.65]),(8.55,41,2016,[0.5,0.48,0.48,-0.55]),(8.65,41,2016,[-0.5,-0.6,-0.7,-0.52]),(8.75,44,2008,[0.95,0.85,0.4,0.26,0.1,-0.15]),(8.95,44,2008,[0.62,0.15,0.05,-0.08,-0.18]),(9.05,43,2012,[1.68,1.75,1.1,1.05,0.55,0.32,0.22,0.05]),(9.2,44,2012,[1.15,0.95,0.8,0.5,0.4,-0.35]),(9.35,43,2012,[0.05,-0.12,-0.18,-0.45]),(9.44,42,2016,[1.9,1.82,1.4,1.0,0.85,0.75,0.55,0.38,0.2]),(9.8,40,2016,[0.15,0.05,-0.12]),(10.05,41,2016,[0.5,0.25,0.12,0.05]),(10.22,41,2014,[0.3,0.15,0.0,-0.05,-0.2,-0.25]),(10.47,40,2008,[2.15,1.6,0.4,0.2,-0.22,-0.28]),(10.55,41,2016,[1.9,1.15,0.45,0.3]),(10.65,40,2006,[-0.28,-0.45]),(11.27,41,2014,[1.88,1.7,0.97,0.85,0.3,-0.4]),(11.35,41,2016,[1.75,1.3,1.15,0.65,0.95,0.4,0.36]),(11.45,41,2016,[1.65,1.45,1.35,1.3,1.2,0.85,0.7]),(11.55,41,2016,[1.62,1.45,1.3,0.85,0.78,0.0]),
]
CEPHA = [
(-3.72,64,2016,[-1.08,-1.1]),(-3.27,64,2008,[-0.98,-1.12]),(-3.13,64,2014,[-1.26,-1.3]),(-2.7,64,2012,[-0.95,-1.0]),(-2.6,64,2014,[-0.86,-1.3,-1.5,-1.55]),(-2.35,64,2006,[-0.5,-0.62]),(-2.15,64,2014,[-0.52,-0.9,-1.0,-1.1]),(-1.9,64,2004,[-0.55,-0.7,-0.75,-1.0]),(-1.75,64,2010,[-0.55,-0.7,-0.85,-1.05]),(-1.5,64,2012,[-0.6,-0.7,-1.0,-1.2,-1.55]),(-1.3,64,2014,[-0.72,-0.9,-1.1]),(-1.15,64,2002,[-0.4,-0.6,-0.75]),(-1.05,63,2012,[-0.55,-0.9,-1.1,-1.25]),(-0.9,64,2010,[-0.7,-0.88,-1.1,-1.15]),(-0.75,63,2010,[-0.7,-0.9,-1.0,-1.2]),(-0.55,64,2012,[-0.7,-0.8,-1.1,-1.15]),(-0.2,64,2006,[-0.58,-0.9,-1.05]),(0.08,63,2016,[-0.92,-1.05,-1.1]),(-0.02,63,2012,[-1.0,-1.2]),
(0.75,56,2016,[-0.42,-0.8]),(0.85,50,2006,[-0.19,-0.5]),(0.89,57,2012,[1.15]),(0.96,57,2014,[0.99,-0.3,-0.4]),(0.96,50,2012,[-0.5,-0.62]),(1.35,56,2012,[1.34,0.45]),(1.5,60,2002,[1.53]),(1.65,56,2012,[1.38,1.35,0.0,-0.5]),(1.65,50,2004,[-0.05,-0.2]),(1.9,56,2014,[1.48,1.31,1.0,-0.15,-0.55]),(1.9,48,2014,[-0.45,-0.95,-0.8]),(2.12,56,2014,[0.5,0.35,-0.45]),(2.3,50,2006,[0.7,0.4,0.22,-0.25]),(2.45,49,2010,[0.65,0.35,-0.1,-0.6]),(2.65,50,2002,[1.84,0.42,-0.05]),(2.62,56,2016,[1.05,0.85,0.5,0.1,-0.15,-0.45,-0.65]),(3.0,50,2004,[0.65,0.2]),(3.03,49,2012,[2.02,1.35,0.55,0.2]),(3.36,49,2012,[2.48,2.02,1.65,0.8,-0.15]),(3.2,50,2004,[2.32,1.9,1.4]),(3.75,48,2014,[1.95,1.3,0.85,0.25,-0.05]),(3.9,48,2006,[1.25,1.0,0.55]),(4.2,50,2010,[1.65,1.45,1.1,0.4,-0.3,-0.6,-0.95]),(3.83,50,2002,[3.05]),(4.36,49,2004,[4.01,3.34]),(4.17,49,2004,[3.26]),(4.5,50,2014,[1.55,1.3,0.75,0.25,-0.45,-0.75]),(4.65,49,2012,[1.4,0.85,0.35,-0.1,-0.55,-0.95]),(4.88,46,2002,[3.6]),(4.75,50,2014,[1.38,1.3,0.85,-0.15,-0.7]),(5.1,48,2006,[2.97,1.55,0.95,-0.12,-0.52]),(5.18,48,2014,[2.17,1.5,1.25,0.6,-0.05,-0.85]),(5.33,46,2006,[3.64,3.09,2.76]),(5.5,48,2014,[2.1,1.85,1.6,0.85,0.4,-0.25,-0.62]),(5.63,47,2004,[3.01,2.57,1.6]),(5.8,46,2002,[2.5]),(5.8,48,2014,[1.75,1.45,0.85,0.2,-0.3,-0.55,-0.8]),(5.95,55,2012,[-0.6,-0.8,-1.05,-1.18]),(6.14,45,2010,[2.86,1.85,0.95,0.4,0.05,-0.4]),(6.29,46,2006,[2.32,1.85,1.3]),(6.41,44,2012,[3.07,2.97,2.45,2.32,1.75,1.7,1.25,0.9]),(6.57,44,2014,[2.83,1.85,0.35,-0.15,-0.65]),(6.65,46,2012,[2.83,2.38,1.55,1.1,0.55,-0.35]),(6.83,45,2014,[2.92]),(6.6,55,2012,[-0.7,-0.95,-1.1,-1.22]),(7.0,52,2014,[0.55,0.05,-0.28,-0.7,-0.95]),(7.25,50,2012,[0.75,0.2,-0.05,-0.55,-0.85]),(7.45,48,2010,[0.7,0.45,-0.05,-0.65,-1.1]),(7.72,52,2012,[-0.95,-1.05,-1.15]),(7.7,46,2006,[1.45,0.95,0.78]),(7.68,42,2014,[0.55,0.45,0.0,-0.2,-0.58,-0.7]),(7.85,42,2012,[-0.62,-0.7]),(7.65,48,2004,[0.02,-0.2]),
(3.1,55,2016,[-0.25,-0.52,-0.72,-0.92]),(3.5,53,2014,[-0.2,-0.48,-0.7,-0.95]),(3.85,51,2014,[-0.38,-0.62,-0.85,-1.02]),(4.12,50,2016,[-0.25,-0.5,-0.68,-0.82,-0.98]),(4.4,50,2014,[-0.1,-0.36,-0.58,-0.78,-0.92]),(4.62,50,2016,[-0.2,-0.48,-0.65,-0.78,-0.9]),(4.9,50,2014,[-0.3,-0.6,-0.72,-0.86,-1.02]),(5.08,49,2016,[-0.22,-0.44,-0.62,-0.78,-0.95]),(5.3,49,2014,[-0.4,-0.58,-0.74,-0.88,-1.0]),(5.55,50,2016,[-0.42,-0.55,-0.7,-0.9,-1.05]),(5.75,53,2014,[-0.68,-0.9,-1.02,-1.15,-1.25]),(6.05,55,2016,[-0.78,-0.96,-1.08,-1.18]),(6.3,54,2014,[-0.62,-0.82,-1.0,-1.14,-1.25]),(6.48,55,2012,[-0.72,-0.92,-1.04,-1.2]),(6.72,54,2016,[-0.55,-0.75,-0.9,-1.05,-1.18,-1.28]),(6.95,54,2014,[-0.42,-0.62,-0.88,-1.08,-1.16]),(7.2,53,2012,[-0.6,-0.78,-0.9,-1.0]),(7.38,49,2014,[-0.35,-0.55,-0.75]),
(2.2,55,2014,[0.12,-0.08,-0.72]),(2.85,54,2012,[0.25,0.08,-0.3]),(3.3,52,2014,[0.35,0.12,-0.08]),(3.65,50,2012,[0.55,0.28,0.05]),(4.3,49,2012,[0.62,0.18,0.0]),(4.85,48,2014,[0.48,0.2,-0.02]),(5.4,48,2012,[0.55,0.12,-0.08]),(5.95,47,2014,[0.72,0.3,0.05]),(6.4,48,2012,[0.5,0.2,-0.05]),(6.9,49,2012,[0.28,0.05]),
(8.15,42,2012,[1.82,0.78,0.6,-0.38]),(8.33,44,2006,[0.55,0.3,-0.68,-0.72]),(8.55,40,2016,[0.0,-0.17,-0.45]),(8.63,42,2014,[-0.68,-0.75,-0.78]),(8.7,41,2016,[-0.35,-0.4,-0.5,-0.72]),(8.75,44,2012,[1.3,1.15,0.2]),(8.9,44,2008,[1.55,1.75,0.9,0.55,0.05,0.12]),(9.15,43,2008,[0.8,0.72,0.6,0.3,-0.0,-0.25]),(9.3,42,2008,[0.4,0.3,0.1,-0.3]),(9.45,42,2016,[1.62,1.55,1.1,1.0,0.85,0.0,-0.1]),(9.75,40,2016,[-0.18,-0.25]),(10.05,41,2016,[0.04,-0.1,-0.2]),(10.2,41,2006,[-0.0,0.3,-0.3]),(10.45,40,2006,[2.05,1.6,0.25]),(10.55,41,2016,[1.9,0.32]),(10.6,40,2002,[1.4,0.35,-0.1,0.24]),(11.24,41,2012,[1.95,1.7,1.6,0.3,0.2,0.15]),(11.3,41,2016,[1.6,0.38,0.3,0.22]),(11.48,41,2014,[2.02,1.62,0.38,0.32,0.1]),
]
FLUORO = [
(-3.72,64,2014,[-0.96,-1.37]),(-3.27,64,2008,[-1.2,-1.32]),(-3.13,64,2012,[-1.0,-1.13,-1.22]),(-2.7,64,2016,[-1.15,-1.22,-1.27,-1.33]),(-2.6,64,2014,[-1.18,-1.3,-1.42,-1.7]),(-2.45,64,2008,[-0.95,-1.45]),(-2.3,64,2014,[-0.86,-0.93,-1.12,-1.2,-1.42]),(-2.15,64,2008,[-0.9,-1.1,-1.2,-1.3]),(-2.0,64,2012,[-0.4,-1.05,-1.2,-1.27]),(-1.75,64,2004,[-0.6,-1.1,-1.45]),(-1.7,63,2012,[-1.0,-1.15,-1.3,-1.6]),(-1.5,63,2006,[-0.72,-0.9,-1.3,-1.55]),(-1.4,63,2016,[-1.0,-1.12,-1.25,-1.38,-1.5]),(-1.15,63,2016,[-1.0,-1.1,-1.22,-1.32,-1.45]),(-1.1,63,2014,[-0.95,-1.08,-1.18,-1.3,-1.4,-1.5]),(-0.95,63,2016,[-1.05,-1.15,-1.25,-1.35,-1.45]),(-0.7,63,2014,[-0.82,-0.95,-1.07,-1.22,-1.33]),(-0.5,63,2008,[-0.65,-1.0,-1.25]),(-0.33,63,2014,[-1.1,-1.3,-1.35]),(-0.2,64,2008,[-0.8,-1.0,-1.2]),(0.03,63,2016,[-1.05,-1.15,-1.22,-1.3,-1.38]),
(-2.4,64,2002,[-0.7,-0.82]),(-1.85,64,2004,[-0.85,-1.02,-1.52]),(-1.25,64,2002,[-0.75,-0.88,-1.55]),(-0.85,64,2004,[-0.85,-1.58]),
(0.89,58,2012,[1.46,-0.45]),(0.75,58,2012,[0.0,-1.4]),(0.96,57,2012,[0.59,-0.52,-0.85]),(0.85,50,2002,[0.35]),(1.17,58,2012,[-0.62,-0.7,-0.95]),(1.27,52,2002,[0.11]),(1.35,57,2012,[0.82,-0.9]),(1.65,57,2008,[1.26,-0.65,-0.88,-1.25]),(1.72,50,2012,[0.18,-0.6,-0.75,-1.0]),(1.91,53,2010,[1.6,0.8,0.57,0.44,-0.98,-1.1]),(1.85,48,2014,[-0.2,-0.5,-0.7,-0.85,-1.0]),(2.06,55,2012,[1.0,-0.3,-1.3,-0.65]),(2.42,50,2006,[1.71,0.6,0.05,-0.55]),(2.42,48,2014,[-0.55,-0.75,-0.9,-1.0]),(2.6,56,2014,[1.5,1.0,0.5,-0.45,-0.6,-1.15]),(2.65,50,2002,[1.57,0.93,0.15,-0.5]),(2.75,48,2014,[-0.55,-0.75,-0.95,-1.12]),(2.82,56,2016,[0.65,0.4,-0.05,-0.3,-0.5,-0.85]),(3.0,49,2006,[2.48,0.4,-0.05,-0.7]),(3.03,48,2012,[1.91,1.8,1.5,0.55,-0.45,-0.95]),(3.36,50,2012,[1.97,1.85,1.65,1.45,0.8,0.15,-0.4,-0.9]),(3.48,49,2012,[1.72,1.45,1.1,0.75,0.42,-0.65]),(3.61,56,2012,[1.97,0.4,-0.3,-0.9,-1.4]),(3.61,49,2010,[1.1,0.55,0.2]),(3.74,48,2016,[1.55,1.28,1.0,0.75,0.1,-0.25]),(3.9,50,2004,[1.1,0.45,0.1,-0.55,-0.85]),
(4.07,50,2006,[2.18,1.75,0.6,0.2,-0.2,-0.65,-0.95,-1.0]),(4.15,49,2014,[1.35,1.15,0.9,0.6,0.22,-0.1,-0.45,-0.7,-0.9]),(4.37,48,2002,[2.34,1.45,0.75]),(4.43,52,2016,[1.6,0.8,0.65,0.25,-0.2,-0.55,-0.95]),(4.6,50,2008,[0.85,0.45,-0.15,-0.55,-1.0,-1.25]),(4.75,49,2014,[1.0,0.5,0.28,-0.05,-0.35,-0.55,-0.72,-0.95]),(4.95,50,2010,[1.65,1.45,1.5,1.45,0.95,0.2,-0.25,-0.6,-1.0]),(5.1,49,2014,[1.1,0.6,0.35,0.0,-0.35,-0.6,-0.8,-1.2]),(5.2,47,2014,[1.35,0.75,0.45,0.15,-0.35,-0.6,-0.85,-1.2,-1.02]),(5.45,49,2006,[1.12,0.65,0.3,-0.1,-0.55,-0.8]),(5.66,47,2014,[1.5,1.35,1.25,0.65,0.6,0.2,0.03,-0.3,-0.6,-0.85]),(5.7,55,2014,[-0.85,-1.0,-1.08,-1.15,-1.2,-1.25]),(6.0,54,2010,[0.7,0.3,-0.2,-0.6,-0.95,-1.1,-1.32]),(6.14,48,2012,[1.15,0.9,0.75,0.55,0.1,-0.4]),(6.15,44,2012,[1.3,1.17,1.1,0.4,-0.05]),(6.4,46,2014,[1.82,1.7,1.6,1.55,1.25,1.0,0.6,-0.15]),(6.43,44,2014,[1.58,1.15,1.1,0.55,0.05,-0.45]),(6.5,54,2016,[0.2,-0.35,-0.7,-0.95,-1.05,-1.15,-1.3,-1.35]),(6.65,44,2010,[1.3,1.12,0.75,0.55,-0.45]),(6.83,46,2014,[1.42,0.9,0.05,-0.1,-0.65]),(6.9,54,2014,[0.2,-0.3,-0.85,-1.05,-1.15,-1.2,-1.0]),(7.1,50,2012,[0.55,0.15,-0.05,-0.15,-0.55,-0.85,-1.05]),(7.35,48,2014,[0.65,0.3,0.0,-0.38,-0.6,-0.85]),(7.48,52,2010,[-0.3,-0.65,-0.78,-0.95,-1.1,-1.15]),(7.72,54,2016,[-0.85,-0.95,-1.05,-1.12,-1.19]),(7.72,50,2006,[0.75,1.37,0.45]),
(2.2,56,2016,[-0.38,-0.68,-0.82,-1.02]),(3.2,55,2014,[-0.3,-0.58,-0.78,-1.0]),(3.8,52,2014,[-0.42,-0.7,-0.9,-1.05]),(4.2,50,2016,[-0.32,-0.52,-0.72,-0.88,-1.0]),(4.35,50,2014,[-0.42,-0.62,-0.78,-0.92,-1.08]),(4.55,50,2016,[-0.28,-0.5,-0.66,-0.82,-0.96]),(4.8,49,2016,[-0.4,-0.62,-0.76,-0.88,-1.02]),(5.0,50,2014,[-0.18,-0.42,-0.58,-0.7,-0.92,-1.12]),(5.25,49,2016,[-0.24,-0.48,-0.66,-0.76,-0.92]),(5.4,50,2014,[-0.45,-0.6,-0.78,-0.9,-1.05]),(5.58,49,2016,[-0.52,-0.68,-0.82,-0.98]),(5.88,54,2016,[-0.7,-0.88,-1.02,-1.18,-1.26]),(6.1,56,2014,[-0.85,-1.0,-1.12,-1.22]),(6.25,55,2016,[-0.6,-0.78,-0.95,-1.1,-1.2,-1.32]),(6.38,56,2014,[-0.8,-1.02,-1.16,-1.3]),(6.62,55,2016,[-0.72,-0.9,-1.05,-1.18,-1.28]),(6.8,55,2014,[-0.6,-0.85,-1.0,-1.12,-1.3]),(7.0,54,2016,[-0.5,-0.78,-0.96,-1.1]),(7.25,51,2014,[-0.42,-0.68,-0.8,-0.92]),
(2.3,54,2012,[0.22,-0.18,-0.35]),(2.95,54,2014,[0.3,0.12,-0.18]),(3.3,52,2014,[0.55,0.28,-0.02]),(3.85,50,2012,[0.68,0.32,0.02]),(4.45,49,2012,[0.42,0.12,0.02]),(4.9,48,2014,[0.62,0.25,0.08]),(5.35,47,2012,[0.88,0.52,0.18]),(5.9,48,2014,[0.42,0.15,-0.08]),(6.3,50,2012,[0.32,0.08,-0.2]),(6.7,49,2012,[0.28,-0.05,-0.22]),(7.05,50,2004,[0.42,0.18]),
(7.67,41,2014,[1.15,1.05,0.85,0.75,-0.15,-0.5,-0.6,-0.68]),(7.77,42,2006,[1.37,0.82]),(7.88,42,2012,[1.14,-0.6,-0.68]),(7.95,44,2002,[1.91]),(8.11,44,2004,[1.37,1.48,0.2,0.1,-0.25]),(8.15,42,2012,[1.82,0.8,0.65,-0.5,-0.42]),(8.31,42,2010,[1.14,-0.45]),(8.53,41,2016,[0.95,0.7,0.68,-0.41,-0.48,-0.55]),(8.62,42,2004,[1.43,0.95]),(8.63,43,2014,[1.16,0.72,0.62]),(8.7,41,2016,[-0.39,-0.45,-0.53]),(8.76,44,2012,[1.75,1.0,0.55,0.35,-0.15]),(8.93,44,2012,[2.0,1.75,0.95,0.62,0.32,-0.1]),(9.1,43,2014,[1.68,1.2,1.15,0.5,0.25,0.0]),(9.18,44,2006,[1.56,0.85,0.6]),(9.33,44,2004,[1.49,1.15,0.7]),(9.45,44,2012,[1.94,1.86,1.28,1.15,0.72,0.52,0.3,0.15]),(9.78,40,2008,[0.57,0.33]),(9.82,41,2004,[2.21]),(9.86,40,2006,[1.68]),(9.98,41,2014,[0.71,0.5,0.42,0.36,0.3]),(10.08,41,2016,[0.5,0.43,0.33,0.22,0.15]),(10.2,41,2010,[0.91,0.28,0.18]),(10.12,41,2016,[0.81,0.2,0.1]),(10.45,40,2004,[2.89,-0.3,-0.4]),(10.47,40,2006,[2.65]),(10.54,41,2014,[2.05,0.36]),(10.65,40,2002,[-0.05,0.25]),(10.75,41,2004,[-0.05,-0.45,0.25,0.35]),(10.95,40,2002,[0.4]),(11.27,41,2008,[2.64,2.55]),(11.24,41,2014,[2.53,0.7]),(11.52,41,2010,[2.45,0.25]),(11.39,41,2016,[1.95,1.75,0.48]),(11.48,41,2014,[1.84,1.72,0.5]),(11.3,41,2016,[1.75,0.48,0.45,0.42]),(11.56,41,2016,[1.72,0.85,0.76,0.7]),(11.37,41,2012,[0.27,1.0]),
]
PENI = [
(-3.72,64,2016,[-1.25,-1.45]),(-3.27,64,2016,[-1.84]),(-3.13,64,2016,[-1.78]),(-2.6,64,2014,[-1.55]),(-2.35,63,2002,[-1.72]),(-2.25,64,2016,[-1.98]),(-2.05,64,2016,[-1.9]),(-2.05,64,2002,[-0.13]),(-1.85,63,2004,[-1.5,-1.55]),(-1.78,64,2016,[-2.76]),(-1.6,64,2004,[-2.48,-1.55]),(-1.55,64,2006,[-1.65,-1.72,-1.8]),(-1.3,64,2012,[-1.1,-1.45,-1.7,-1.65]),(-1.25,64,2004,[-2.25,-1.45]),(-1.1,64,2016,[-1.85,-1.9,-2.2]),(-1.0,64,2016,[-2.25,-1.65,-1.2]),(-0.9,64,2010,[-2.15,-2.32]),(-0.72,64,2004,[-0.55,-2.08]),(-0.55,64,2012,[-2.02,-2.2]),(-0.33,64,2014,[-2.12]),(-0.2,64,2012,[-2.15,-1.25]),(-0.05,64,2016,[-2.15,-2.32,-1.2]),(0.05,63,2004,[-1.2]),
(0.75,56,2014,[-1.25,-1.5]),(0.96,54,2010,[-0.35,-0.4,-0.8,0.13]),(1.17,57,2012,[-0.65,-0.75]),(1.35,57,2012,[-0.08,-0.68]),(1.5,52,2002,[-0.2,-0.3,-0.85]),(1.7,52,2004,[0.06,-0.18]),(1.75,48,2012,[-0.58,-0.75,-0.95]),(1.9,58,2014,[-1.78]),(1.9,48,2010,[0.42,0.33,-0.6,-0.65]),(2.0,52,2012,[-0.2,-0.72,-0.9,-1.15]),(2.2,50,2006,[-0.05,-0.55,-0.75]),(2.4,51,2010,[0.03,-0.1,-0.58,-0.72,-1.1]),(2.55,50,2010,[1.1,0.65,0.2,-0.55,-0.85]),(2.65,49,2004,[1.02,0.3,-0.05]),(2.82,56,2010,[0.35,0.1,-0.35,-0.8,-0.85,-1.0]),(3.0,50,2012,[1.2,0.4,-0.5,-0.65,-0.75]),(3.03,48,2014,[0.8,0.2,-0.75,-0.9]),(3.36,50,2012,[1.15,0.9,0.35,-0.25,-0.5,-0.85]),(3.45,50,2012,[1.0,0.4,0.42,-0.55]),(3.57,49,2014,[1.2,0.45,0.35,-0.1,-0.92]),(3.82,48,2004,[2.32,1.35,0.65]),(3.75,49,2014,[1.05,0.9,0.55,0.2,-0.1,-0.75,-0.82]),(3.95,50,2012,[1.4,0.85,0.6,0.1,-0.35,-0.65,-0.88]),
(4.03,48,2008,[2.26,1.55,1.05,0.45,-0.1,-0.55]),(4.08,56,2012,[-1.2]),(4.17,49,2002,[2.47,0.98,0.4,-0.2]),(4.3,49,2012,[1.45,0.65,0.25,-0.25,-0.7,-1.0]),(4.36,47,2004,[2.91,1.68,0.78]),(4.5,51,2008,[1.3,0.35,0.08,-0.4,-0.6,-0.9]),(4.62,48,2010,[2.23,0.45,0.05,-0.3,-0.75]),(4.75,47,2014,[2.48,0.85,0.65,0.2,-0.2,-0.5]),(4.9,48,2008,[0.7,0.9,0.1,-0.25,-0.68]),(4.97,56,2014,[-1.2]),(5.13,46,2014,[2.62,1.45,0.7,0.4,-0.1,-0.65]),(5.2,46,2014,[2.35,1.6,1.05,0.25,-0.3,-0.7]),(5.38,48,2008,[2.24,1.5,1.0,0.42,0.0,-0.55,-0.85]),(5.53,47,2014,[2.57,1.75,0.48,0.1,-0.45,-0.7]),(5.66,46,2014,[2.44,1.8,1.05,0.55,0.08,-0.55,-0.95]),(5.75,54,2006,[0.95,0.4,-0.15,-1.15,-1.22]),(5.95,54,2012,[-0.75,-1.0,-1.18]),(6.14,44,2014,[1.65,0.12,-0.45,-0.85]),(6.2,55,2008,[1.05,0.65,0.4,0.0,-0.45,-0.88]),(6.43,44,2014,[2.19,1.78,1.1,0.2,-0.3]),(6.5,52,2012,[0.85,0.7,0.32,-0.1,-0.65,-1.0]),(6.65,46,2006,[1.55,0.55,-0.1,-0.45]),(6.83,44,2012,[1.82,1.72]),(6.9,54,2006,[0.6,0.35,0.1,-0.5,-1.18]),(6.95,56,2006,[1.6,1.45,1.2,1.0,0.88,0.68]),(7.05,55,2002,[1.02,0.85,0.75]),(7.15,50,2012,[0.48,0.05,-0.15,-0.35,-1.18,-0.7]),(7.2,56,2010,[1.48,1.35,1.05,0.85,-0.55,-0.6]),(7.45,56,2006,[0.25,-0.35,-1.19]),(7.55,52,2006,[0.85,-0.2,-0.6,0.05]),(7.72,54,2012,[-1.0,-1.1,0.3]),
(4.1,50,2012,[-0.3,-0.48,-0.62,-0.8,-0.98]),(4.45,50,2010,[-0.52,-0.72,-0.85,-1.0]),(4.7,49,2012,[-0.42,-0.6,-0.82,-1.0]),(5.05,50,2012,[-0.38,-0.52,-0.74,-0.95]),(5.32,49,2010,[-0.3,-0.62,-0.78,-0.92]),(5.6,50,2012,[-0.28,-0.58,-0.72,-0.9]),(5.85,54,2010,[-0.5,-0.92,-1.08]),(6.28,55,2012,[-0.68,-0.98,-1.12,-1.25]),(6.6,54,2012,[-0.52,-0.88,-1.02,-1.24]),(6.85,54,2014,[-0.7,-0.9,-1.1]),(3.3,52,2012,[-0.7,-0.98,-1.15]),
(7.65,42,2010,[0.28,0.1,-0.4,-0.55]),(7.88,42,2012,[0.25,1.1]),(7.95,46,2002,[1.48,1.0,0.2,-0.1]),(8.11,44,2006,[1.48,0.78,0.7,0.3,-0.35]),(8.18,42,2014,[0.58,-0.05,-0.25]),(8.33,44,2010,[1.1,0.45]),(8.6,42,2012,[0.95,0.32,0.05]),(8.65,42,2012,[0.8,0.0,-0.15]),(8.76,44,2012,[0.22,0.45,1.25,1.05]),(8.9,42,2014,[2.58,1.3,0.85,0.45,0.7]),(9.0,44,2008,[1.6,1.2,0.9,0.4]),(9.15,44,2006,[1.95,0.68,0.55,0.25]),(9.28,42,2012,[1.13,0.85,0.8,-0.02]),(9.38,43,2014,[1.62,0.82,0.95,0.55,0.35]),(9.45,42,2016,[1.62,1.18,0.58,0.28]),(9.78,41,2014,[2.32]),(9.95,42,2004,[1.25,1.15,0.95]),(10.05,41,2014,[2.2,1.85,1.83,1.75]),(10.2,41,2016,[2.02,1.8,0.55]),(10.45,41,2010,[1.4,1.15,1.05,-0.42,-0.5,-0.66]),(10.55,41,2012,[1.22,1.05,-0.18,-0.28]),(10.65,40,2004,[1.68,0.65,1.15,-0.1,-0.45]),(10.77,41,2004,[1.38,1.0,0.6,-0.05,-0.18]),(11.0,41,2004,[1.42,0.55]),(11.24,41,2010,[1.3,1.25,0.0,-0.3,-0.43,-0.47]),(11.32,41,2016,[1.25,1.35,1.75,0.02,0.0]),(11.42,41,2016,[1.48,0.05,0.03,0.03]),(11.5,41,2012,[1.2,1.15,-0.2,0.08]),(11.56,41,2014,[1.3,0.0,-0.03]),
]
FIT_TEMP = [-3.72, 11.57]
FIT_RES = [-1.18, 0.895]
DRUGS = ["Aminoglycosides", "Cephalosporins", "Fluoroquinolones", "Penicillins"]
YEARS = [2000, 2004, 2008, 2012, 2016]

# ---------- colour helpers ----------
STOPS = [(0, (0xf4,0xec,0x1f)), (.1, (0xfb,0xec,0x0c)), (.38, (0xff,0xc2,0x0e)), (.6, (0xf7,0x94,0x1d)), (.8, (0xf1,0x5a,0x22)), (1, (0xed,0x1c,0x24))]

def col(u):
    u = max(0, min(1, u))
    for (a, ca), (b, cb) in zip(STOPS, STOPS[1:]):
        if u <= b:
            f = (u - a) / (b - a)
            return "rgb(%d,%d,%d)" % tuple(round(p + (q - p) * f) for p, q in zip(ca, cb))
    return "rgb(237,28,36)"

def binned(reverse=False, n=20):
    out = []
    for i in range(n):
        u = (i + .5) / n
        c = col(1 - u if reverse else u)
        out += [[i / n, c], [(i + 1) / n, c]]
    return out

def smooth(reverse=False):
    return [[k / 40, col(1 - k / 40 if reverse else k / 40)] for k in range(41)]

def fr(x): return x / W
def fy(y): return 1 - y / H

fig = go.Figure()

# ---------- maps ----------
def draw_map(values, rng, xa, ya):
    for name, parts in SHAPES.items():
        xs, ys = [], []
        for part in parts:
            pts = list(part) + [part[0]]
            xs += [p[0] for p in pts] + [None]
            ys += [merc(p[1]) for p in pts] + [None]
        c = col((values[name] - rng[0]) / (rng[1] - rng[0])) if name in values else "#a6a6a6"
        fig.add_trace(go.Scatter(x=xs, y=ys, mode="lines", fill="toself", fillcolor=c, name=name,
                                 line=dict(color="black", width=0.9), hoverinfo="name", showlegend=False,
                                 xaxis=xa, yaxis=ya))

draw_map(RESISTANCE, RES_RANGE, "x", "y")
draw_map(MIN_TEMP, TEMP_RANGE, "x2", "y2")

def map_axes(i, xpx, ypx, x0, xs, y40, ys):
    xname = "xaxis" if i == 1 else "xaxis%d" % i
    yname = "yaxis" if i == 1 else "yaxis%d" % i
    m40 = merc(40)
    common = dict(showgrid=True, gridcolor="#ebebeb", gridwidth=1.5, zeroline=False, showline=False,
                  ticks="outside", tickcolor="rgba(0,0,0,0)",
                  tickfont=dict(family=FONT, size=12.5, color=GREY), fixedrange=True)
    fig.update_layout(**{
        xname: dict(domain=[fr(xpx[0]), fr(xpx[1])], range=[(xpx[0]-x0)/xs, (xpx[1]-x0)/xs], ticklen=3,
                    tickvals=[-20, 0, 20], anchor="y" if i == 1 else "y%d" % i, **common),
        yname: dict(domain=[fy(ypx[1]), fy(ypx[0])], range=[m40+(y40-ypx[1])/ys, m40+(y40-ypx[0])/ys], ticklen=5,
                    tickvals=[merc(v) for v in (40, 50, 60, 70)], ticktext=["40", "50", "60", "70"],
                    anchor="x" if i == 1 else "x%d" % i, **common),
    })

map_axes(1, (165, 603), (45, 565), 348, 7.28, 494, 416)
map_axes(2, (747, 1181), (45, 560), 928, 7.2, 491, 412.3)

# ---------- panel C ----------
def expand(rows):
    t, lat, yr, res = [], [], [], []
    for a, b, c, vals in rows:
        for v in vals:
            t.append(a); lat.append(b); yr.append(c); res.append(v)
    return t, lat, yr, res

def alpha(y): return 0.1 + 0.9 * (y - 2000) / 16

SCALE_LAT = smooth(reverse=True)
SPEC = [(AMINO, "circle", 7), (CEPHA, "triangle-up", 9), (FLUORO, "square", 7), (PENI, "cross-thin", 10)]
for rows, sym, size in SPEC:
    t, lat, yr, res = expand(rows)
    line = dict(width=0)
    if sym == "cross-thin":
        line = dict(width=1, color=lat, colorscale=SCALE_LAT, cmin=LAT_RANGE[0], cmax=LAT_RANGE[1])
    fig.add_trace(go.Scatter(x=t, y=res, mode="markers", xaxis="x3", yaxis="y3", showlegend=False,
                             marker=dict(symbol=sym, size=size, color=lat, colorscale=SCALE_LAT, cmin=LAT_RANGE[0],
                                         cmax=LAT_RANGE[1], opacity=[alpha(y) for y in yr], line=line)))
fig.add_trace(go.Scatter(x=FIT_TEMP, y=FIT_RES, mode="lines", line=dict(color="#9b2226", width=2.5),
                         xaxis="x3", yaxis="y3", showlegend=False))

C_X = (118, 1106); C_Y = (645, 1198)
fig.update_layout(
    xaxis3=dict(domain=[fr(C_X[0]), fr(C_X[1])], range=[(C_X[0]-381)/58.85, (C_X[1]-381)/58.85], anchor="y3",
                tickvals=[-4, 0, 4, 8, 12], showgrid=False, zeroline=False, showline=True, mirror=True, linecolor="#333333", linewidth=1.2,
                ticks="outside", ticklen=4, tickcolor="#333333", tickfont=dict(family=FONT, size=12.5, color=GREY), fixedrange=True),
    yaxis3=dict(domain=[fy(C_Y[1]), fy(C_Y[0])], range=[(969-C_Y[1])/74.8, (969-C_Y[0])/74.8], anchor="x3",
                tickvals=[-2, 0, 2, 4], showgrid=False, zeroline=False, showline=True, mirror=True, linecolor="#333333", linewidth=1.2,
                ticks="outside", ticklen=5, tickcolor="#333333", tickfont=dict(family=FONT, size=12.5, color=GREY), fixedrange=True),
)

# ---------- key axes ----------
def key_axes(i, ypx, y0):
    fig.update_layout(**{
        "xaxis%d" % i: dict(domain=[fr(1140), fr(1318)], range=[(1140-1149)/15, (1318-1149)/15], visible=False, anchor="y%d" % i, fixedrange=True),
        "yaxis%d" % i: dict(domain=[fy(ypx[1]), fy(ypx[0])], range=[(ypx[1]-y0)/25, (ypx[0]-y0)/25], visible=False, anchor="x%d" % i, fixedrange=True),
    })
key_axes(4, (698, 797), 710.5)
key_axes(5, (858, 982), 870.5)

KEY_SIZE = {"circle": 7, "triangle-up": 9.5, "square": 8, "cross-thin": 11}
for idx, (d, (_, sym, size)) in enumerate(zip(DRUGS, SPEC)):
    s = dict(symbol=sym, size=KEY_SIZE[sym], color="black", line=dict(width=1.1, color="black") if sym == "cross-thin" else dict(width=0))
    fig.add_trace(go.Scatter(x=[0], y=[idx], mode="markers", marker=s, xaxis="x4", yaxis="y4", showlegend=False))
fig.add_trace(go.Scatter(x=[0.95]*4, y=list(range(4)), mode="text", text=DRUGS, textposition="middle right",
                         textfont=dict(family=FONT, size=14, color=GREY), xaxis="x4", yaxis="y4", showlegend=False))
fig.add_trace(go.Scatter(x=[0]*5, y=list(range(5)), mode="markers", xaxis="x5", yaxis="y5", showlegend=False,
                         marker=dict(size=7.5, color="black", opacity=[alpha(y) for y in YEARS], line=dict(width=0))))
fig.add_trace(go.Scatter(x=[0.95]*5, y=list(range(5)), mode="text", text=[str(y) for y in YEARS], textposition="middle right",
                         textfont=dict(family=FONT, size=14, color=GREY), xaxis="x5", yaxis="y5", showlegend=False))

# ---------- text helper ----------
def note(x, y, text, size, anchor="center", angle=0, bold=False, color=GREY, yanchor="middle"):
    return dict(x=fr(x), y=fy(y), xref="paper", yref="paper", text=("<b>%s</b>" % text) if bold else text, showarrow=False,
                xanchor=anchor, yanchor=yanchor, textangle=angle, align="left", borderpad=0,
                font=dict(family=FONT, size=size, color=color))

# ---------- colour bars ----------
shapes = []
ann = []
def colorbar(rng, ticks, fmt, xpx, ypx, labx, reverse=False):
    length = ypx[1] - ypx[0]
    cb = dict(x=fr(xpx[0]), y=fy(ypx[0]), xanchor="left", yanchor="top", xpad=0, ypad=0, lenmode="pixels", len=length,
              thicknessmode="pixels", thickness=xpx[1]-xpx[0], outlinewidth=0, ticks="inside", ticklen=6, tickwidth=1, tickcolor="rgba(255,255,255,0.85)",
              tickvals=ticks, showticklabels=False)
    fig.add_trace(go.Scatter(x=[None, None], y=[None, None], mode="markers", showlegend=False, xaxis="x3", yaxis="y3",
                             marker=dict(color=list(rng), cmin=rng[0], cmax=rng[1], colorscale=binned(reverse), showscale=True, colorbar=cb)))
    for v in ticks:
        py = ypx[1] - (v - rng[0]) / (rng[1] - rng[0]) * length
        shapes.append(dict(type="line", xref="paper", yref="paper", x0=fr(xpx[0]), x1=fr(xpx[0]+6), y0=fy(py), y1=fy(py),
                           line=dict(color="rgba(255,255,255,0.85)", width=1), layer="above"))
        ann.append(note(labx, py + 3, format(v, fmt).replace("-", "\u2212"), 13.5, anchor="left"))

colorbar(RES_RANGE, RES_TICKS, ".1f", (6, 38), (394, 549), 45)
colorbar(TEMP_RANGE, TEMP_TICKS, ".1f", (1172, 1203), (402, 557), 1211)
colorbar(LAT_RANGE, LAT_TICKS, "d", (1136, 1161), (1040, 1166), 1167, reverse=True)

# ---------- text ----------
ann += [
    note(28, 20, "A.", 20, bold=True, color="#333333"), note(687, 20, "B.", 20, bold=True, color="#333333"), note(41, 634, "C.", 20, bold=True, color="#333333"),
    note(127, 283, "Latitude", 15.5, angle=-90), note(407, 600, "Longitude", 15.5),
    note(710, 280, "Latitude", 15.5, angle=-90), note(987, 595, "Longitude", 15.5),
    note(39, 921, "Resistance (normalised)", 17, angle=-90), note(610, 1257, "Minimum temperature (°C)", 17),
    note(6, 369, "Resistance<br>(normalised)", 17.5, anchor="left"),
    note(1171, 374, "Minimum<br>temperature (°C)", 17.5, anchor="left"),
    note(1135, 685, "Drug", 17.5, anchor="left"), note(1135, 845, "Year", 17.5, anchor="left"), note(1135, 1027, "Latitude", 17.5, anchor="left"),
]

fig.update_layout(width=W, height=H, margin=dict(l=0, r=0, t=0, b=0, pad=0), autosize=False, paper_bgcolor="white", plot_bgcolor="white",
                  showlegend=False, annotations=ann, shapes=shapes, font=dict(family=FONT, color=GREY), hovermode=False)

fig.write_html("out.html", config={"displayModeBar": False}, post_script="document.body.style.margin='0';document.body.style.overflow='hidden';")
